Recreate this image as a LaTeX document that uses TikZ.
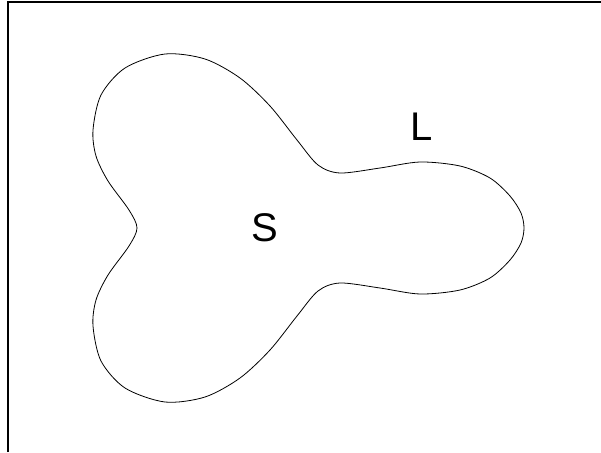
\documentclass[tikz,border=0pt]{standalone}
\usepackage{fontspec}
\setmainfont{Liberation Sans}
\begin{document}
\begin{tikzpicture}[x=1pt,y=-1pt,
  frameline/.style={line width=1.6pt},
  blob/.style={line width=0.8pt},
  lab/.style={font=\fontsize{40}{40}\selectfont, inner sep=0pt}]
\useasboundingbox (0,0) rectangle (601,452);
\draw[frameline] (8,452) coordinate (fb) -- (8,2) coordinate (fc) -- (601,2) coordinate (fr);
\draw[blob] plot[smooth cycle, tension=0.5] coordinates {
 (137,228) (129,210) (108,181) (96,156) (93,130) (101,95) (125,68) (165,54)
 (205,59) (240,78) (270,106) (297,140) (318,165) (340,173) (380,168) (420,162)
 (460,166) (490,178) (510,196) (521,213) (524,228)
 (521,243) (510,260) (490,278) (460,290) (420,294) (380,288) (340,283) (318,291)
 (297,316) (270,350) (240,378) (205,397) (165,402) (125,388) (101,361)
 (93,326) (96,300) (108,275) (129,246)};
\node[lab] (S) at (265,228) {S};
\node[lab] (L) at (421.5,126.5) {L};
\end{tikzpicture}
\end{document}
